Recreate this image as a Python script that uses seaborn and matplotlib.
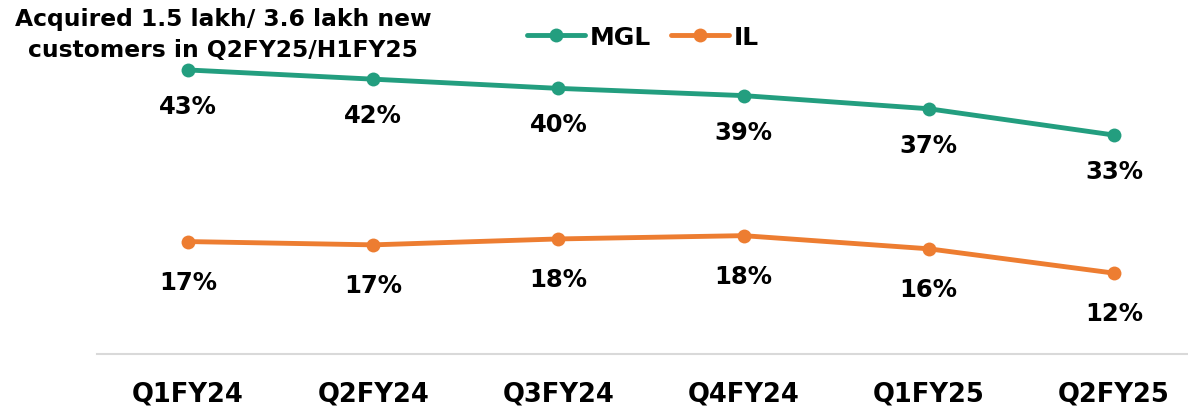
import matplotlib
matplotlib.use("Agg")
import matplotlib.pyplot as plt
import seaborn as sns
import pandas as pd
from matplotlib.lines import Line2D

quarters = ["Q1FY24", "Q2FY24", "Q3FY24", "Q4FY24", "Q1FY25", "Q2FY25"]
mgl = [43.2, 41.8, 40.4, 39.3, 37.3, 33.3]
il = [17.1, 16.6, 17.5, 18.0, 16.0, 12.3]
mgl_labels = ["43%", "42%", "40%", "39%", "37%", "33%"]
il_labels = ["17%", "17%", "18%", "18%", "16%", "12%"]
title = "Acquired 1.5 lakh/ 3.6 lakh new\ncustomers in Q2FY25/H1FY25"

sns.set_theme(style="white")
plt.rcParams['font.family'] = ['DejaVu Sans']
plt.rcParams['font.weight'] = 'bold'
plt.rcParams['text.color'] = 'black'

green = "#239E7F"
orange = "#ED7D31"

df = pd.DataFrame({
    "quarter": quarters * 2,
    "value": mgl + il,
    "series": ["MGL"] * 6 + ["IL"] * 6,
})

fig = plt.figure(figsize=(11.88, 4.14), dpi=100)
ax = fig.add_axes([97 / 1188, 1 - 355 / 414, 1 - 97 / 1188, (355 - 26.25) / 414])

sns.lineplot(data=df, x="quarter", y="value", hue="series", palette={"MGL": green, "IL": orange},
             marker="o", markersize=10, markeredgewidth=0, linewidth=3.5, sort=False, ax=ax, legend=False)

ax.set_xlim(-0.491, 5.40)
ax.set_ylim(0, 50)
for i, (v, lab) in enumerate(zip(mgl, mgl_labels)):
    ax.annotate(lab, (i, v), xytext=(0, -26), textcoords="offset points", ha="center", va="center",
                fontsize=17.5, fontweight="bold", color="black")
for i, (v, lab) in enumerate(zip(il, il_labels)):
    ax.annotate(lab, (i, v), xytext=(0, -29), textcoords="offset points", ha="center", va="center",
                fontsize=17.5, fontweight="bold", color="black")

ax.set_xlabel("")
ax.set_ylabel("")
ax.set_yticks([])
for s in ["top", "left", "right"]:
    ax.spines[s].set_visible(False)
ax.spines["bottom"].set_color("#D9D9D9")
ax.spines["bottom"].set_linewidth(1.5)
ax.tick_params(axis="x", length=0, pad=19, labelsize=18.5, labelcolor="black")
for t in ax.get_xticklabels():
    t.set_fontweight("bold")

handles = [Line2D([], [], color=green, marker="o", markersize=10, markeredgewidth=0, linewidth=3.5),
           Line2D([], [], color=orange, marker="o", markersize=10, markeredgewidth=0, linewidth=3.5)]
fig.legend(handles, ["MGL", "IL"], loc="center", bbox_to_anchor=(643 / 1188, 1 - 38 / 414), ncol=2,
           frameon=False, prop={"size": 18, "weight": "bold"}, handlelength=2.3, handletextpad=0.2,
           columnspacing=0.8, labelcolor="black")

fig.text(223 / 1188, 1 - 8 / 414, title, ha="center", va="top", fontsize=16.8, fontweight="bold",
         linespacing=1.45, color="black")

fig.savefig("out.png", dpi=100)
